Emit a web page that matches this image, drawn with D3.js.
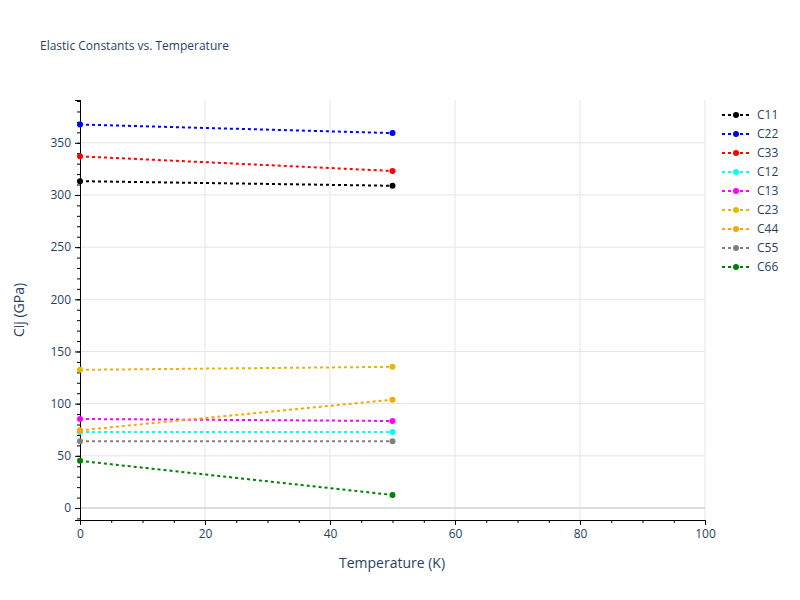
<!DOCTYPE html><html><head><meta charset="utf-8"><script src="https://cdn.jsdelivr.net/npm/d3@7"></script>
<style>body{margin:0;background:#fff;font-family:"Open Sans",sans-serif}</style></head><body><svg id="c" width="800" height="600"></svg><script>
const temps=[0,50];
const seriesNames=["C11","C22","C33","C12","C13","C23","C44","C55","C66"];
const seriesColors=["black","blue","red","cyan","magenta","#e6b800","orange","gray","green"];
const C11=[313.2,308.8],C22=[367.5,359.3],C33=[337,323],C12=[72.8,72.8],C13=[85.3,83.4],C23=[132.4,135.3],C44=[74.5,103.8],C55=[64,64],C66=[45.2,12.5];
const values=[C11,C22,C33,C12,C13,C23,C44,C55,C66];
const xTicks=[0,20,40,60,80,100],yTicks=[0,50,100,150,200,250,300,350];
const svg=d3.select("#c");
const L=80,R=705,T=100,B=520;
const x=d3.scaleLinear().domain([0,100]).range([L,R]);
const y=d3.scaleLinear().domain([-11.5,391]).range([B,T]);
const g=svg.append("g");
g.selectAll(".vg").data(xTicks.slice(1)).join("line").attr("x1",d=>x(d)).attr("x2",d=>x(d)).attr("y1",T).attr("y2",B).attr("stroke","#e5e5e5");
g.selectAll(".hg").data(yTicks).join("line").attr("x1",L).attr("x2",R).attr("y1",d=>y(d)).attr("y2",d=>y(d)).attr("stroke",d=>d===0?"#ddd":"#e5e5e5").attr("stroke-width",d=>d===0?2:1);
const xa=svg.append("g").attr("transform",`translate(0,${B})`).call(d3.axisBottom(x).tickValues(xTicks).tickSize(5).tickPadding(4));
svg.append("g").attr("transform",`translate(0,${B})`).call(d3.axisBottom(x).ticks(20).tickSize(3).tickFormat(""));
const ya=svg.append("g").attr("transform",`translate(${L},0)`).call(d3.axisLeft(y).tickValues(yTicks).tickSize(5).tickPadding(4));
svg.append("g").attr("transform",`translate(${L},0)`).call(d3.axisLeft(y).tickValues(d3.range(-10,391,10)).tickSize(3).tickFormat(""));
svg.selectAll(".tick text").attr("font-size",12).attr("fill","#2a3f5f").attr("font-family","Open Sans");
svg.selectAll(".domain").attr("stroke","#000");
const line=d3.line().x((d,i)=>x(temps[i])).y(d=>y(d));
values.forEach((v,k)=>{
 svg.append("path").attr("d",line(v)).attr("fill","none").attr("stroke",seriesColors[k]).attr("stroke-width",2).attr("stroke-dasharray","3,3");
 svg.selectAll(null).data(v).join("circle").attr("cx",(d,i)=>x(temps[i])).attr("cy",d=>y(d)).attr("r",3).attr("fill",seriesColors[k]);
});
const lg=svg.append("g");
seriesNames.forEach((n,k)=>{
 const yy=115+k*19;
 lg.append("line").attr("x1",722).attr("x2",750).attr("y1",yy).attr("y2",yy).attr("stroke",seriesColors[k]).attr("stroke-width",2).attr("stroke-dasharray","3,3");
 lg.append("circle").attr("cx",736).attr("cy",yy).attr("r",3).attr("fill",seriesColors[k]);
 lg.append("text").attr("x",757).attr("y",yy+4).text(n).attr("font-size",12).attr("fill","#2a3f5f");
});
svg.append("text").attr("x",40).attr("y",50).text("Elastic Constants vs. Temperature").attr("font-size",12).attr("fill","#2a3f5f");
svg.append("text").attr("x",392).attr("y",568).attr("text-anchor","middle").text("Temperature (K)").attr("font-size",14).attr("fill","#2a3f5f");
svg.append("text").attr("transform","translate(24,310) rotate(-90)").attr("text-anchor","middle").text("Cij (GPa)").attr("font-size",14).attr("fill","#2a3f5f");
</script></body></html>
